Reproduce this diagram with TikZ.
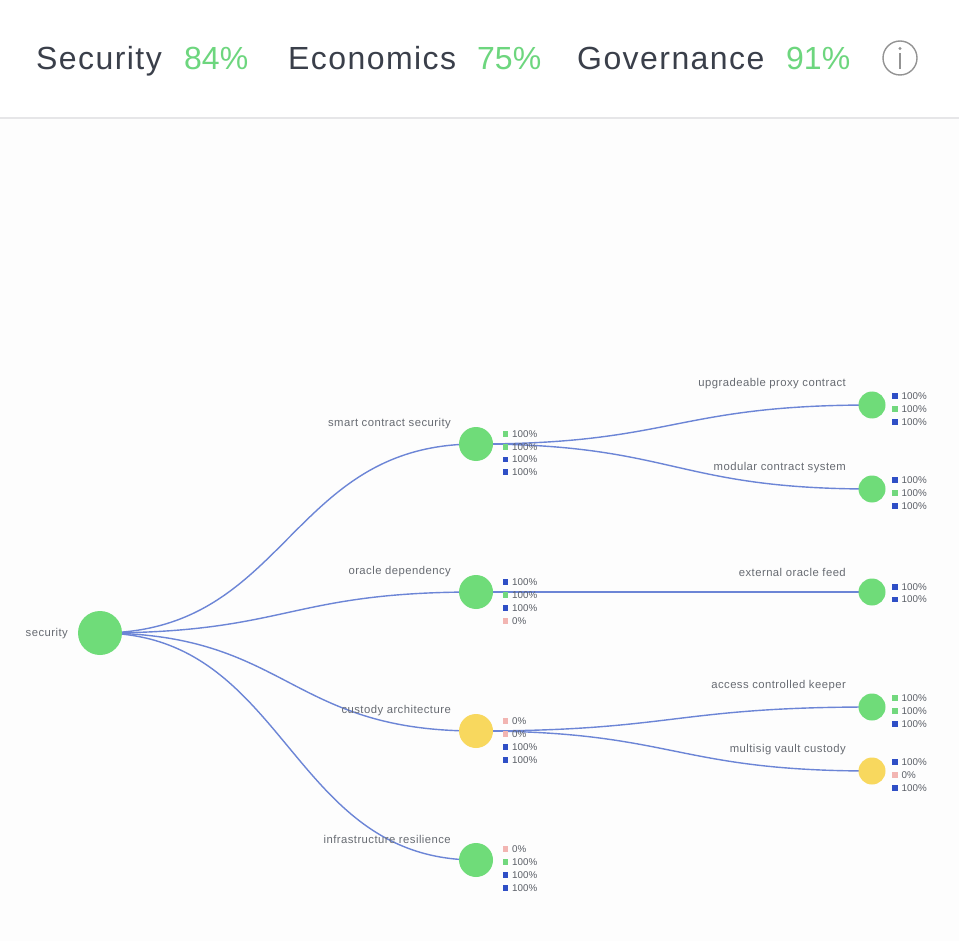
\documentclass[tikz,border=0pt]{standalone}
\usepackage{fontspec}
\setmainfont{Liberation Sans}
\usetikzlibrary{calc}
\definecolor{ngreen}{HTML}{6FDC79}
\definecolor{nyellow}{HTML}{F8D85E}
\definecolor{edgeblue}{HTML}{6C85D6}
\definecolor{sqblue}{HTML}{2F4FC6}
\definecolor{sqgreen}{HTML}{72D87E}
\definecolor{sqpink}{HTML}{F2B5B2}
\definecolor{hdark}{HTML}{3A3F4A}
\definecolor{hgreen}{HTML}{6DD67E}
\definecolor{lblgray}{HTML}{676B72}
\definecolor{leggray}{HTML}{5A5E66}
\definecolor{divgray}{HTML}{E6E6E8}
\definecolor{outgray}{HTML}{EEEEEF}
\definecolor{chartbg}{HTML}{FDFDFD}
\pgfdeclarelayer{bg}
\pgfdeclarelayer{edges}
\pgfsetlayers{bg,edges,main}
\tikzset{
  rootnode/.style={circle,fill=ngreen,draw=none,minimum size=44pt,inner sep=0pt},
  lvlone/.style={circle,draw=none,minimum size=34pt,inner sep=0pt},
  lvltwo/.style={circle,draw=none,minimum size=27pt,inner sep=0pt},
  lbl/.style={anchor=east,inner sep=0pt,text=lblgray,font=\fontsize{11.3}{13}\selectfont\addfontfeature{LetterSpace=4}},
  legtext/.style={anchor=west,inner sep=0pt,text=leggray,font=\fontsize{9.8}{11}\selectfont},
  hword/.style={anchor=base west,inner sep=0pt,text=hdark,font=\fontsize{32}{38}\selectfont\addfontfeature{LetterSpace=4.5}},
  hpct/.style={anchor=base west,inner sep=0pt,text=hgreen,font=\fontsize{32}{38}\selectfont},
  edge/.style={draw=edgeblue,line width=1.4pt},
}
\newcommand\treelink[2]{%
  \draw[edge] let \p1=(#1.center), \p2=(#2.center) in
    (\p1) .. controls ({(\x1+\x2)/2},\y1) and ({(\x1+\x2)/2},\y2) .. (\p2);}
\newcommand\legrow[5]{%
  \fill[#4] ({#2-2.8},{#3-2.8}) rectangle ({#2+2.8},{#3+2.8});
  \node[legtext] (#1) at ({#2+6.5},#3) {#5};}
\begin{document}
\begin{tikzpicture}[x=1pt,y=-1pt]
\useasboundingbox (0,0) rectangle (959,941);
\begin{pgfonlayer}{bg}
  \fill[outgray] (0,0) rectangle (959,941);
  \fill[white] (0,0) -- (925,0) arc[start angle=90,end angle=0,radius=34] -- (959,941) -- (0,941) -- cycle;
  \fill[chartbg] (0,119) rectangle (959,941);
  \draw[divgray,line width=2.5pt] (0,118) -- (959,118);
\end{pgfonlayer}

% header
\node[hword] (hsec) at (36,70) {Security};
\node[hpct] (psec) at (184,70) {84\%};
\node[hword] (heco) at (288,70) {Economics};
\node[hpct] (peco) at (477,70) {75\%};
\node[hword] (hgov) at (577,70) {Governance};
\node[hpct] (pgov) at (786,70) {91\%};
\node[circle,draw=gray!85,line width=1.4pt,minimum size=34pt,inner sep=0pt] (info) at (900,58) {};
\fill[gray!85] (900,48.5) circle (1.7);
\draw[gray!85,line width=1.6pt] (900,53.5) -- (900,69.5);

% nodes
\node[rootnode] (root) at (100,633) {};
\node[lvlone,fill=ngreen] (sc) at (476,444) {};
\node[lvlone,fill=ngreen] (od) at (476,592) {};
\node[lvlone,fill=nyellow] (ca) at (476,731) {};
\node[lvlone,fill=ngreen] (ir) at (476,860) {};
\node[lvltwo,fill=ngreen] (up) at (872,405) {};
\node[lvltwo,fill=ngreen] (mc) at (872,489) {};
\node[lvltwo,fill=ngreen] (eo) at (872,592) {};
\node[lvltwo,fill=ngreen] (ac) at (872,707) {};
\node[lvltwo,fill=nyellow] (mv) at (872,771) {};

% labels
\node[lbl] (lroot) at (68,634) {security};
\node[lbl] (lsc) at (451,424) {smart contract security};
\node[lbl] (lod) at (451,572) {oracle dependency};
\node[lbl] (lca) at (451,711) {custody architecture};
\node[lbl] (lir) at (451,839) {infrastructure resilience};
\node[lbl] (lup) at (846,384) {upgradeable proxy contract};
\node[lbl] (lmc) at (846,468) {modular contract system};
\node[lbl] (leo) at (846,572) {external oracle feed};
\node[lbl] (lac) at (846,686) {access controlled keeper};
\node[lbl] (lmv) at (846,750) {multisig vault custody};

% edges
\begin{pgfonlayer}{edges}
  \treelink{root}{sc}
  \treelink{root}{od}
  \treelink{root}{ca}
  \treelink{root}{ir}
  \treelink{sc}{up}
  \treelink{sc}{mc}
  \treelink{od}{eo}
  \treelink{ca}{ac}
  \treelink{ca}{mv}
\end{pgfonlayer}

% legends level 1
\legrow{sca}{505.5}{434}{sqgreen}{100\%}
\legrow{scb}{505.5}{446.7}{sqgreen}{100\%}
\legrow{scc}{505.5}{459.4}{sqblue}{100\%}
\legrow{scd}{505.5}{472.1}{sqblue}{100\%}
\legrow{oda}{505.5}{582}{sqblue}{100\%}
\legrow{odb}{505.5}{595}{sqgreen}{100\%}
\legrow{odc}{505.5}{608}{sqblue}{100\%}
\legrow{odd}{505.5}{621}{sqpink}{0\%}
\legrow{caa}{505.5}{721}{sqpink}{0\%}
\legrow{cab}{505.5}{734}{sqpink}{0\%}
\legrow{cac}{505.5}{747}{sqblue}{100\%}
\legrow{cad}{505.5}{760}{sqblue}{100\%}
\legrow{ira}{505.5}{849}{sqpink}{0\%}
\legrow{irb}{505.5}{862}{sqgreen}{100\%}
\legrow{irc}{505.5}{875}{sqblue}{100\%}
\legrow{ird}{505.5}{888}{sqblue}{100\%}
% legends level 2
\legrow{upa}{895}{396}{sqblue}{100\%}
\legrow{upb}{895}{409}{sqgreen}{100\%}
\legrow{upc}{895}{422}{sqblue}{100\%}
\legrow{mca}{895}{480}{sqblue}{100\%}
\legrow{mcb}{895}{493}{sqgreen}{100\%}
\legrow{mcc}{895}{506}{sqblue}{100\%}
\legrow{eoa}{895}{587}{sqblue}{100\%}
\legrow{eob}{895}{599.5}{sqblue}{100\%}
\legrow{aca}{895}{698}{sqgreen}{100\%}
\legrow{acb}{895}{711}{sqgreen}{100\%}
\legrow{acc}{895}{724}{sqblue}{100\%}
\legrow{mva}{895}{762}{sqblue}{100\%}
\legrow{mvb}{895}{775}{sqpink}{0\%}
\legrow{mvc}{895}{788}{sqblue}{100\%}
\end{tikzpicture}
\end{document}
